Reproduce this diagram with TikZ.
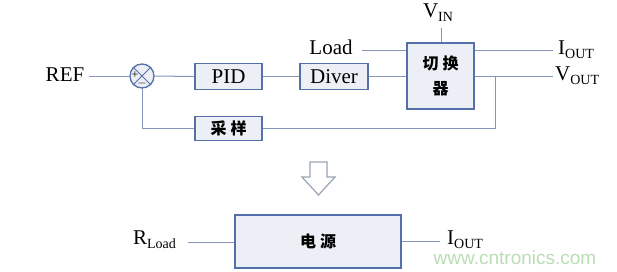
\documentclass[tikz,border=0pt]{standalone}
\usepackage{fontspec}
\setmainfont{Liberation Serif}
\newfontfamily\cjk{Noto Sans CJK SC}
\newfontfamily\wmfont{Liberation Sans}
\usetikzlibrary{positioning}
\definecolor{boxline}{HTML}{5570A8}
\definecolor{boxfill}{HTML}{ECEFF5}
\definecolor{wire}{HTML}{8396BA}
\definecolor{hollow}{HTML}{9AA3B5}
\definecolor{wmark}{HTML}{B9DDB4}
\newcommand{\subtxt}[1]{\raisebox{-4pt}{\fontsize{14}{14}\selectfont #1}}

\begin{document}
\begin{tikzpicture}[
        x=1pt, y=-1pt,
        blockbox/.style={rectangle, draw=boxline, fill=boxfill, line
        width=1.3pt, inner sep=0pt},
        wireline/.style={draw=wire, line width=1pt},
        lbl/.style={font=\fontsize{21}{23}\selectfont, inner sep=0pt},
        cjklbl/.style={font=\cjk\bfseries\fontsize{16}{25}\selectfont},
      ]
      \useasboundingbox (0,0) rectangle (617,271);

      % Control loop (top)
      \node[lbl] (ref) at (65,75) {REF};
      \node[circle, draw=boxline, fill=boxfill, line width=1.3pt,
      minimum size=24pt, inner sep=0pt] (sum) at (142,76) {};
      \draw[boxline, line width=1pt] (sum.north east) -- (sum.south west);
      \draw[boxline, line width=1pt] (sum.north west) -- (sum.south east);
      \node[font=\fontsize{12}{12}\selectfont, inner sep=0pt] (plus) at
      (135,75) {+};
      \node[font=\fontsize{12}{12}\selectfont, inner sep=0pt] (minus) at
      (142,83) {$-$};
      \node[blockbox, minimum width=67pt, minimum height=26pt, lbl]
      (pid) at (228.5,76.5) {PID};
      \node[blockbox, minimum width=68pt, minimum height=26pt, lbl]
      (diver) at (334,76.5) {Diver};
      \node[blockbox, minimum width=67pt, minimum height=66pt, cjklbl,
      align=center] (sw) at (440.5,76) {切\hspace{4pt}换\\器};
      \node[blockbox, minimum width=67pt, minimum height=24pt, cjklbl]
      (samp) at (228.5,128.5) {采\hspace{4pt}样};

      \draw[wireline] (ref.east) ++(5,1) coordinate (refout) -- (sum.west);
      \draw[wireline] (sum.east) -- (pid.west);
      \draw[wireline] (pid.east) -- (diver.west);
      \draw[wireline] (diver.east) -- (diver.east -| sw.west);

      % Inputs and outputs of the switch
      \node[lbl] (load) at (331,47) {Load};
      \coordinate (loadin) at (362,50);
      \draw[wireline] (loadin) -- (loadin -| sw.west);
      \node[lbl] (vin) at (438,13) {V\subtxt{IN}};
      \coordinate (vintop) at (441,28);
      \draw[wireline] (vintop) -- (sw.north -| vintop);
      \coordinate (ioutend) at (553,50);
      \draw[wireline] (ioutend -| sw.east) -- (ioutend);
      \node[lbl, anchor=west] (iout) at (558,50) {I\subtxt{OUT}};
      \coordinate (voutend) at (553,76);
      \draw[wireline] (sw.east) -- (voutend);
      \node[lbl, anchor=west] (vout) at (555,76) {V\subtxt{OUT}};

      % Feedback path
      \coordinate (tap) at (495,76);
      \draw[wireline] (tap) |- (samp.east);
      \draw[wireline] (samp.west) -| (sum.south);

      % Hollow arrow
      \draw[hollow, fill=white, line width=1.2pt] (310,162) -- (327,162)
      -- (327,177) -- (335,177) -- (318.5,195) -- (302,177) -- (310,177)
      -- cycle;

      % Equivalent source (bottom)
      \node[blockbox, minimum width=166pt, minimum height=53pt, cjklbl]
      (pwr) at (318,241.5) {电\hspace{4pt}源};
      \node[lbl, anchor=east] (rload) at (176,240) {R\subtxt{Load}};
      \coordinate (rin) at (188,242);
      \draw[wireline] (rin) -- (rin -| pwr.west);
      \coordinate (iend) at (440,241);
      \draw[wireline] (iend -| pwr.east) -- (iend);
      \node[lbl, anchor=west] (iout2) at (447,240) {I\subtxt{OUT}};

      \node[font=\wmfont\fontsize{19}{19}\selectfont, text=wmark, inner
      sep=0pt] (wm) at (515,258) {www.cntronics.com};
    \end{tikzpicture}
\end{document}
